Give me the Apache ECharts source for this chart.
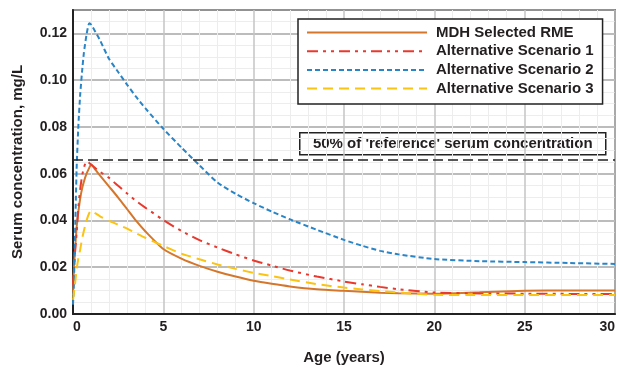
<!DOCTYPE html>
<html>
<head>
<meta charset="utf-8">
<script src="https://cdn.jsdelivr.net/npm/echarts@6/dist/echarts.min.js"></script>
<style>
    html, body { margin: 0; padding: 0; background: #fff; }
    #main { width: 618px; height: 368px; }
</style>
</head>
<body>
<div id="main"></div>
<script>
    // age in years, shared by all series
    var ages = [0, 0.05, 0.1, 0.2, 0.3, 0.4, 0.5, 0.6, 0.75, 0.9, 1.0, 1.25, 1.5, 2, 2.5, 3, 3.5, 4,
        5, 6, 7, 8, 9, 10, 11, 12, 13.5, 15, 16, 17, 18, 20, 22.5, 25, 27.5, 30];

    var mdhRme = [0.008, 0.019, 0.026, 0.037, 0.044, 0.0495, 0.0535, 0.0565, 0.0600, 0.0625, 0.0639, 0.0616, 0.0592, 0.0545, 0.0498, 0.0448, 0.0398, 0.0354,
        0.0278, 0.0237, 0.0206, 0.0181, 0.0160, 0.0142, 0.0129, 0.0118, 0.0106, 0.0099, 0.0095, 0.0091, 0.0089, 0.0087, 0.0093, 0.0099, 0.0101, 0.0101];
    var scenario1 = [0.012, 0.019, 0.025, 0.0346, 0.046, 0.0535, 0.059, 0.0625, 0.0653, 0.0646, 0.0639, 0.0623, 0.0608, 0.0582, 0.0548, 0.0515, 0.0483, 0.0455,
        0.0402, 0.0355, 0.0316, 0.0284, 0.0255, 0.0229, 0.0207, 0.0186, 0.0160, 0.0139, 0.0127, 0.0116, 0.0106, 0.0092, 0.0088, 0.0087, 0.0086, 0.0086];
    var scenario2 = [0.004, 0.013, 0.029, 0.062, 0.081, 0.094, 0.1035, 0.1115, 0.1195, 0.1243, 0.1238, 0.1205, 0.1170, 0.1090, 0.1035, 0.0980, 0.0928, 0.0880,
        0.0792, 0.0712, 0.0636, 0.0562, 0.0514, 0.0474, 0.0438, 0.0405, 0.0360, 0.0317, 0.0292, 0.0270, 0.0255, 0.0235, 0.0226, 0.0222, 0.0218, 0.0214];
    var scenario3 = [0.006, 0.009, 0.012, 0.019, 0.024, 0.0277, 0.032, 0.0355, 0.0400, 0.0432, 0.0443, 0.0430, 0.0418, 0.0398, 0.0382, 0.0365, 0.0345, 0.0326,
        0.0291, 0.0258, 0.0234, 0.0212, 0.0193, 0.0176, 0.0162, 0.0148, 0.0128, 0.0113, 0.0105, 0.0098, 0.0092, 0.0082, 0.0081, 0.0081, 0.0081, 0.0081];

    var seriesNames = ['MDH Selected RME', 'Alternative Scenario 1', 'Alternative Scenario 2', 'Alternative Scenario 3'];
    var refLevel = 0.066;
    var refLabel = "50% of 'reference' serum concentration";

    var font = 'Liberation Sans, Arial, Helvetica, sans-serif';
    var ink = '#231f20';

    var pairs = function (ys) {
        return ages.map(function (a, i) {
            return [a, ys[i]];
        });
    };

    var lineSeries = function (name, ys, color, type) {
        return {
            name: name,
            type: 'line',
            data: pairs(ys),
            symbol: 'none',
            smooth: 0.2,
            animation: false,
            itemStyle: { color: color },
            lineStyle: { color: color, width: 2, type: type }
        };
    };

    var chart = echarts.init(document.getElementById('main'), null, { renderer: 'canvas' });

    var s0 = lineSeries(seriesNames[0], mdhRme, '#d4772c', 'solid');
    s0.markLine = {
        silent: true,
        symbol: 'none',
        precision: 4,
        animation: false,
        label: { show: false },
        lineStyle: { color: '#222', width: 1.5, type: [10, 5] },
        data: [{ yAxis: refLevel }]
    };

    chart.setOption({
        animation: false,
        textStyle: { fontFamily: font },
        grid: {
            left: 73,
            right: 3,
            top: 10,
            bottom: 54,
            outerBoundsMode: 'none',
            containLabel: false,
            show: true,
            borderColor: '#222',
            borderWidth: 1.5
        },
        legend: {
            data: seriesNames,
            orient: 'vertical',
            left: 298,
            top: 19,
            itemWidth: 120,
            itemHeight: 14,
            itemGap: 3.7,
            padding: [6, 9, 8, 8],
            backgroundColor: '#fff',
            borderColor: '#222',
            borderWidth: 1.5,
            itemStyle: { opacity: 0 },
            textStyle: {
                fontFamily: font,
                fontSize: 15,
                fontWeight: 'bold',
                color: ink,
                lineHeight: 14,
                padding: [0, 0, 0, 4]
            }
        },
        xAxis: {
            type: 'value',
            min: 0,
            max: 30,
            interval: 5,
            name: 'Age (years)',
            nameLocation: 'middle',
            nameGap: 36,
            nameTextStyle: { fontFamily: font, fontSize: 15, fontWeight: 'bold', color: ink },
            axisLine: { show: true, lineStyle: { color: '#222', width: 2 } },
            axisTick: { show: false },
            axisLabel: {
                fontFamily: font,
                fontSize: 14,
                fontWeight: 'bold',
                color: ink,
                margin: 6,
                alignMinLabel: 'left',
                alignMaxLabel: 'right'
            },
            splitLine: { show: true, lineStyle: { color: '#c4c4c4', width: 1.5 } },
            minorTick: { show: false, splitNumber: 5 },
            minorSplitLine: { show: true, lineStyle: { color: '#ededed', width: 1 } }
        },
        yAxis: {
            type: 'value',
            min: 0,
            max: 0.13,
            interval: 0.02,
            name: 'Serum concentration, mg/L',
            nameLocation: 'middle',
            nameGap: 48,
            nameTextStyle: { fontFamily: font, fontSize: 15, fontWeight: 'bold', color: ink },
            axisLine: { show: true, lineStyle: { color: '#222', width: 2 } },
            axisTick: { show: false },
            axisLabel: {
                fontFamily: font,
                fontSize: 14,
                fontWeight: 'bold',
                color: ink,
                margin: 6,
                formatter: function (v) {
                    return v > 0.125 ? '' : v.toFixed(2);
                }
            },
            splitLine: { show: true, lineStyle: { color: '#a6a6a6', width: 1.5 } },
            minorTick: { show: false, splitNumber: 4 },
            minorSplitLine: { show: true, lineStyle: { color: '#ededed', width: 1 } }
        },
        graphic: [{
            type: 'group',
            left: 299,
            top: 132,
            z: 100,
            children: [{
                type: 'rect',
                shape: { x: 0, y: 0, width: 306, height: 22 },
                style: { fill: '#fff', stroke: '#222', lineWidth: 1.5 }
            }, {
                type: 'text',
                x: 153,
                y: 11,
                style: {
                    text: refLabel,
                    fontFamily: font,
                    fontSize: 15,
                    fontWeight: 'bold',
                    fill: ink,
                    align: 'center',
                    verticalAlign: 'middle'
                }
            }]
        }],
        series: [
            s0,
            lineSeries(seriesNames[1], scenario1, '#e8392e', [11, 5, 3, 5, 3, 5]),
            lineSeries(seriesNames[2], scenario2, '#2a85c6', [5, 3]),
            lineSeries(seriesNames[3], scenario3, '#fbc312', [10, 6])
        ]
    });
</script>
</body>
</html>
